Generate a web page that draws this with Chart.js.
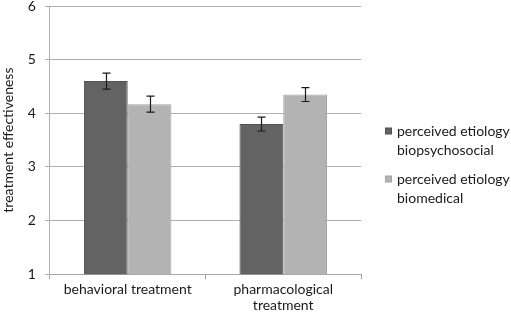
<!DOCTYPE html>
<html>
<head>
<meta charset="utf-8">
<script src="https://cdn.jsdelivr.net/npm/chart.js@4"></script>
<style>
  body { margin: 0; background: #fff; }
  #wrap { width: 511px; height: 316px; }
</style>
</head>
<body>
<div id="wrap"><canvas id="chart" width="511" height="316"></canvas></div>
<script>
const categories = [['behavioral treatment'], ['pharmacological', 'treatment']];
const seriesNames = [['perceived etiology', 'biopsychosocial'], ['perceived etiology', 'biomedical']];
const biopsychosocial = [4.60, 3.80];
const biomedical = [4.17, 4.35];
const biopsychosocialErr = [0.15, 0.13];
const biomedicalErr = [0.15, 0.13];
const yTicks = [1, 2, 3, 4, 5, 6];

const fontFamily = 'Lato, "Open Sans", sans-serif';
const textColor = '#1a1a1a';

// error bars drawn on top of each bar using the chart's own scales
const errorBars = {
    id: 'errorBars',
    afterDatasetsDraw(chart) {
        const ctx = chart.ctx;
        const yScale = chart.scales.y;
        ctx.save();
        ctx.strokeStyle = '#1a1a1a';
        ctx.lineWidth = 1.2;
        chart.data.datasets.forEach((ds, i) => {
            const meta = chart.getDatasetMeta(i);
            meta.data.forEach((bar, j) => {
                const v = ds.data[j];
                const e = ds.errors[j];
                const x = Math.round(bar.x) + 0.5;
                const yTop = yScale.getPixelForValue(v + e);
                const yBot = yScale.getPixelForValue(v - e);
                ctx.beginPath();
                ctx.moveTo(x, yTop);
                ctx.lineTo(x, yBot);
                ctx.moveTo(x - 4, yTop);
                ctx.lineTo(x + 4, yTop);
                ctx.moveTo(x - 4, yBot);
                ctx.lineTo(x + 4, yBot);
                ctx.stroke();
            });
        });
        ctx.restore();
    }
};

// legend on the right with two-line labels, like the original figure
const sideLegend = {
    id: 'sideLegend',
    afterDraw(chart) {
        const ctx = chart.ctx;
        const left = chart.chartArea.right + 24;
        const tops = [131, 179];
        ctx.save();
        ctx.font = '14px ' + fontFamily;
        ctx.textBaseline = 'middle';
        chart.data.datasets.forEach((ds, i) => {
            const y = tops[i];
            ctx.fillStyle = ds.borderColor;
            ctx.fillRect(left, y - 3.5, 7, 7);
            ctx.fillStyle = ds.backgroundColor;
            ctx.fillRect(left + 1, y - 2.5, 5, 5);
            ctx.fillStyle = textColor;
            seriesNames[i].forEach((line, k) => {
                ctx.fillText(line, left + 12, y + k * 19);
            });
        });
        ctx.restore();
    }
};

const ctx = document.getElementById('chart').getContext('2d');
new Chart(ctx, {
    type: 'bar',
    data: {
        labels: categories,
        datasets: [
            {
                label: seriesNames[0].join(' '),
                data: biopsychosocial,
                errors: biopsychosocialErr,
                backgroundColor: '#636363',
                borderColor: '#505050',
                borderWidth: 1
            },
            {
                label: seriesNames[1].join(' '),
                data: biomedical,
                errors: biomedicalErr,
                backgroundColor: '#b3b3b3',
                borderColor: '#a3a3a3',
                borderWidth: 1
            }
        ]
    },
    options: {
        responsive: false,
        animation: false,
        categoryPercentage: 0.5625,
        barPercentage: 1,
        layout: { padding: { left: 0, top: 0, right: 150, bottom: 0 } },
        plugins: {
            tooltip: { enabled: false },
            legend: { display: false }
        },
        scales: {
            x: {
                grid: {
                    offset: true,
                    drawOnChartArea: false,
                    drawTicks: true,
                    tickLength: 5,
                    color: '#a6a6a6'
                },
                border: { color: '#a6a6a6' },
                ticks: {
                    color: textColor,
                    font: { family: fontFamily, size: 14, lineHeight: 1.1 },
                    padding: 3
                }
            },
            y: {
                min: 1,
                max: 6,
                afterBuildTicks(scale) {
                    scale.ticks = yTicks.map(v => ({ value: v }));
                },
                afterFit(scale) {
                    scale.paddingTop = 6;
                    scale.paddingBottom = 0;
                },
                grid: {
                    color: '#b0b0b0',
                    tickLength: 5
                },
                border: { color: '#b0b0b0' },
                ticks: {
                    color: textColor,
                    font: { family: fontFamily, size: 14 },
                    padding: 9
                },
                title: {
                    display: true,
                    text: 'treatment effectiveness',
                    color: textColor,
                    font: { family: fontFamily, size: 14 },
                    padding: { top: 0, bottom: 2 }
                }
            }
        }
    },
    plugins: [errorBars, sideLegend]
});
</script>
</body>
</html>
